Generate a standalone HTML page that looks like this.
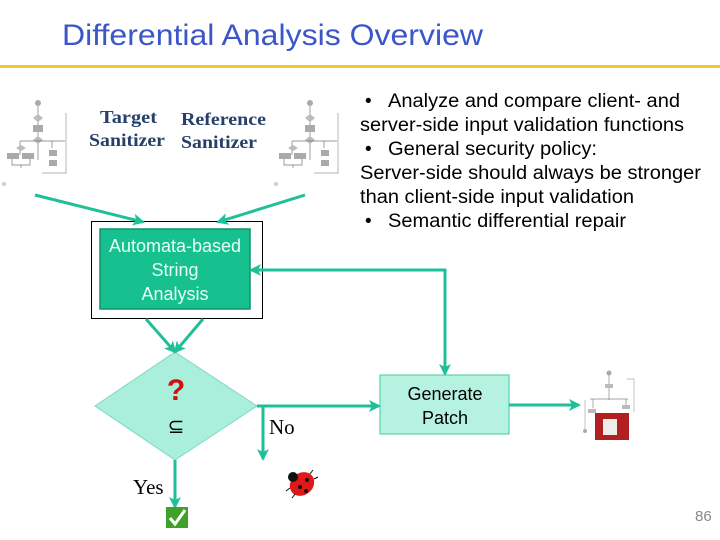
<!DOCTYPE html>
<html><head><style>
html,body{margin:0;padding:0;background:#fff;}
svg{display:block;}
</style></head><body>
<svg width="720" height="540" viewBox="0 0 720 540" xmlns="http://www.w3.org/2000/svg" font-family="Liberation Sans, sans-serif">
<defs>
<marker id="a" markerWidth="12" markerHeight="12" refX="10" refY="6" orient="auto" markerUnits="userSpaceOnUse"><path d="M0,0 L12,6 L0,12 L3,6 z" fill="#1fbf98"/></marker>
<g id="fc">
<circle cx="38" cy="103" r="3" fill="#aaa"/>
<line x1="38" y1="106" x2="38" y2="160" stroke="#777" stroke-width="0.7"/>
<path d="M33,118 L38,114 L43,118 L38,122z" fill="#bbb"/>
<rect x="33" y="125" width="10" height="7" fill="#aaa"/>
<path d="M33,140 L38,136 L43,140 L38,144z" fill="#bbb"/>
<path d="M20,141 L65,141 M20,141 V155 M52,141 V148" stroke="#777" stroke-width="0.7" fill="none"/>
<path d="M16,148 L21,145 L26,148 L21,151z" fill="#bbb"/>
<rect x="7" y="153" width="12" height="6" fill="#aaa"/>
<rect x="22" y="153" width="12" height="6" fill="#aaa"/>
<rect x="49" y="150" width="8" height="6" fill="#aaa"/>
<rect x="49" y="160" width="8" height="6" fill="#aaa"/>
<path d="M12,159 V165 H30 V159 M21,165 V168" stroke="#777" stroke-width="0.7" fill="none"/>
<path d="M66,113 V173 H42" stroke="#999" stroke-width="0.7" fill="none"/>
<circle cx="4" cy="184" r="2" fill="#ccc"/>
</g>
</defs>

<text x="62" y="45" font-size="30" fill="#3a56c8" textLength="421" lengthAdjust="spacingAndGlyphs">Differential Analysis Overview</text>
<rect x="0" y="65" width="720" height="3" fill="#f0c830"/>

<use href="#fc"/>
<use href="#fc" x="272"/>

<g font-family="Liberation Serif, serif" font-weight="bold" font-size="18" fill="#27406a">
<text x="100" y="123" textLength="57" lengthAdjust="spacingAndGlyphs">Target</text>
<text x="89" y="146" textLength="76" lengthAdjust="spacingAndGlyphs">Sanitizer</text>
<text x="181" y="125" textLength="85" lengthAdjust="spacingAndGlyphs">Reference</text>
<text x="181" y="148" textLength="76" lengthAdjust="spacingAndGlyphs">Sanitizer</text>
</g>

<g font-size="19" fill="#000">
<text x="365" y="107">•</text>
<text x="388" y="107" textLength="292" lengthAdjust="spacingAndGlyphs">Analyze and compare client- and</text>
<text x="360" y="131" textLength="324" lengthAdjust="spacingAndGlyphs">server-side input validation functions</text>
<text x="365" y="155">•</text>
<text x="388" y="155" textLength="209" lengthAdjust="spacingAndGlyphs">General security policy:</text>
<text x="360" y="179" textLength="341" lengthAdjust="spacingAndGlyphs">Server-side should always be stronger</text>
<text x="360" y="203" textLength="274" lengthAdjust="spacingAndGlyphs">than client-side input validation</text>
<text x="365" y="227">•</text>
<text x="388" y="227" textLength="238" lengthAdjust="spacingAndGlyphs">Semantic differential repair</text>
</g>

<rect x="91.5" y="221.5" width="171" height="97" fill="#fff" stroke="#000" stroke-width="1"/>
<rect x="100" y="229" width="150" height="80" fill="#17c08f" stroke="#109070" stroke-width="1.5"/>
<g font-size="18" fill="#e6fff4" text-anchor="middle">
<text x="175" y="252">Automata-based</text>
<text x="175" y="276">String</text>
<text x="175" y="300">Analysis</text>
</g>

<path d="M175,352 L257,406 L175,460 L95,406z" fill="#a9efdc" stroke="#7fd8c0" stroke-width="1"/>
<text x="176" y="400" font-size="30" font-weight="bold" fill="#d01010" text-anchor="middle">?</text>
<text x="176" y="433" font-size="20" fill="#000" text-anchor="middle">⊆</text>

<rect x="380" y="375" width="129" height="59" fill="#b5f3e0" stroke="#40c8a0" stroke-width="1"/>
<g font-size="18" fill="#000" text-anchor="middle">
<text x="445" y="400">Generate</text>
<text x="445" y="424">Patch</text>
</g>

<g stroke="#1fbf98" stroke-width="3" fill="none">
<line x1="35" y1="195" x2="143" y2="222" marker-end="url(#a)"/>
<line x1="305" y1="195" x2="218" y2="222" marker-end="url(#a)"/>
<polyline points="445,270 251,270" marker-end="url(#a)"/>
<line x1="445" y1="268.5" x2="445" y2="374" marker-end="url(#a)"/>
<line x1="146" y1="319" x2="175" y2="352" marker-end="url(#a)"/>
<line x1="203" y1="319" x2="175" y2="352" marker-end="url(#a)"/>
<line x1="257" y1="406" x2="379" y2="406" marker-end="url(#a)"/>
<line x1="263" y1="406" x2="263" y2="459" marker-end="url(#a)"/>
<line x1="509" y1="405" x2="579" y2="405" marker-end="url(#a)"/>
<line x1="175" y1="460" x2="175" y2="507" marker-end="url(#a)"/>
</g>

<g font-family="Liberation Serif, serif" font-size="21" fill="#000">
<text x="269" y="434">No</text>
<text x="133" y="494">Yes</text>
</g>

<g>
<circle cx="609" cy="373" r="2.5" fill="#aaa"/>
<line x1="609" y1="375" x2="609" y2="400" stroke="#888" stroke-width="0.7"/>
<rect x="605" y="384" width="8" height="4" fill="#bbb"/>
<path d="M590,399 H628 M593,399 V408 M626,399 V405" stroke="#888" stroke-width="0.7" fill="none"/>
<rect x="588" y="409" width="8" height="4" fill="#bbb"/>
<rect x="622" y="405" width="8" height="4" fill="#bbb"/>
<path d="M585,400 V430 M627,379 H634 V412" stroke="#aaa" stroke-width="0.7" fill="none"/>
<circle cx="585" cy="431" r="2" fill="#aaa"/>
<rect x="595" y="413" width="34" height="27" fill="#b02020"/>
<rect x="603" y="419" width="14" height="16" fill="#f0ece8"/>
</g>

<g>
<ellipse cx="302" cy="484" rx="13" ry="11" fill="#e01818" transform="rotate(-40 302 484)"/>
<circle cx="293" cy="477" r="5" fill="#111"/>
<circle cx="300" cy="487" r="2" fill="#111"/><circle cx="307" cy="480" r="2" fill="#111"/><circle cx="306" cy="491" r="2" fill="#111"/>
<path d="M290,488 l-4,3 M295,494 l-3,4 M310,474 l3,-4 M314,479 l4,-2" stroke="#111" stroke-width="1"/>
</g>

<rect x="166" y="507" width="22" height="21" fill="#3fa02a"/>
<path d="M170,518 L175,524 L185,510" stroke="#fff" stroke-width="3" fill="none"/>

<text x="695" y="521" font-size="15" fill="#888">86</text>
</svg>
</body></html>
